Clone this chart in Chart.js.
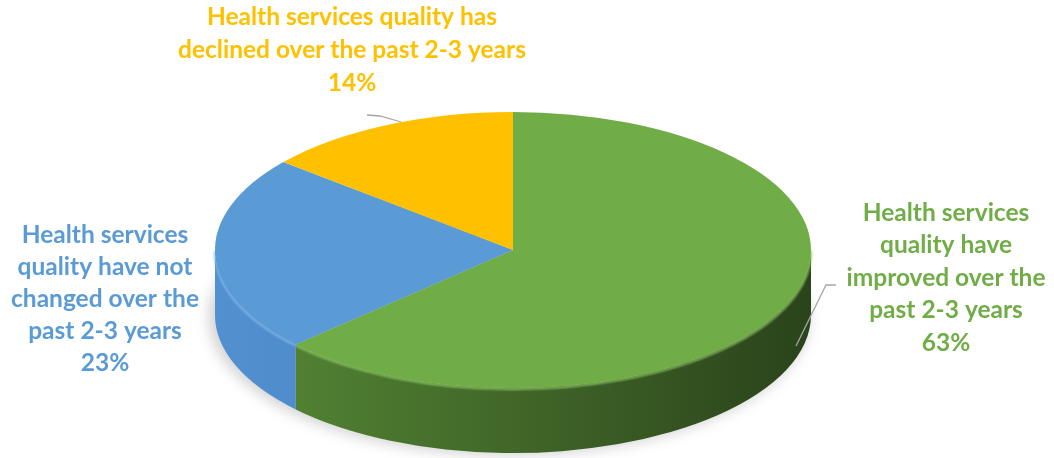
<!DOCTYPE html>
<html>
<head>
<meta charset="utf-8">
<script src="https://cdn.jsdelivr.net/npm/chart.js@4"></script>
<style>
  body { margin: 0; background: #fff; }
  #wrap { width: 1054px; height: 458px; position: relative; }
</style>
</head>
<body>
<div id="wrap"><canvas id="chart-pie"></canvas></div>
<script>
// data
const categories = [
    'Health services quality have improved over the past 2-3 years',
    'Health services quality have not changed over the past 2-3 years',
    'Health services quality has declined over the past 2-3 years'
];
const shares = [63, 23, 14];
const labelLines = [
    ['Health services', 'quality have', 'improved over the', 'past 2-3 years'],
    ['Health services', 'quality have not', 'changed over the', 'past 2-3 years'],
    ['Health services quality has', 'declined over the past 2-3 years']
];
const colors = ['#70ad47', '#5b9bd5', '#ffc000'];
const wallColors = [['#578a36', '#2a431b'], ['#5290d0', '#3f72aa'], ['#e0a800', '#b08400']];
const rimColors = ['#8fc866', '#7fb8ee', '#ffd24d'];

// where the tilted pie sits on the page
const pieCx = 513, pieCy = 250, pieRx = 298, pieRy = 138, pieDepth = 65;

// where the labels go (centre x, first line y, line step)
const labelPos = [[946, 213, 32.5], [105, 235, 32], [352, 17, 33]];

let chart_pie = document.getElementById('chart-pie');

const pie3d = {
    id: 'pie3d',
    beforeDatasetsDraw(chart) {
        const ctx = chart.ctx;
        const arcs = chart.getDatasetMeta(0).data;
        const first = arcs[0];

        // soft shadow under the pie
        ctx.save();
        ctx.fillStyle = 'rgba(0,0,0,0.18)';
        ctx.filter = 'blur(7px)';
        ctx.beginPath();
        ctx.ellipse(pieCx - 4, pieCy + pieDepth + 2, pieRx + 2, pieRy, 0, 0, Math.PI * 2);
        ctx.fill();
        ctx.restore();

        // side walls, only the front half can be seen
        arcs.forEach((arc, i) => {
            const a = arc.startAngle, b = arc.endAngle;
            [-2 * Math.PI, 0, 2 * Math.PI].forEach(k => {
                const lo = Math.max(a, k), hi = Math.min(b, k + Math.PI);
                if (hi <= lo) return;
                const grad = ctx.createLinearGradient(pieCx - pieRx, 0, pieCx + pieRx, 0);
                grad.addColorStop(0, wallColors[i][0]);
                grad.addColorStop(1, wallColors[i][1]);
                ctx.save();
                ctx.fillStyle = grad;
                ctx.beginPath();
                ctx.ellipse(pieCx, pieCy, pieRx, pieRy, 0, lo, hi);
                ctx.ellipse(pieCx, pieCy + pieDepth, pieRx, pieRy, 0, hi, lo, true);
                ctx.closePath();
                ctx.fill();
                // light rim on the top edge
                ctx.strokeStyle = rimColors[i];
                ctx.lineWidth = 2;
                ctx.filter = 'blur(1px)';
                ctx.beginPath();
                ctx.ellipse(pieCx, pieCy + 1, pieRx, pieRy, 0, lo, hi);
                ctx.stroke();
                ctx.restore();
            });
        });

        // squash the flat pie into the top face
        ctx.save();
        ctx.translate(pieCx, pieCy);
        ctx.scale(pieRx / first.outerRadius, pieRy / first.outerRadius);
        ctx.translate(-first.x, -first.y);
    },
    afterDatasetsDraw(chart) {
        const ctx = chart.ctx;
        ctx.restore();

        // leader lines
        ctx.save();
        ctx.strokeStyle = '#a6a6a6';
        ctx.lineWidth = 1.3;
        ctx.beginPath();
        ctx.moveTo(367, 115); ctx.lineTo(380, 116); ctx.lineTo(401, 122);
        ctx.moveTo(836, 285); ctx.lineTo(826, 285); ctx.lineTo(796, 346);
        ctx.stroke();

        // data labels
        ctx.font = 'bold 24.5px Lato';
        ctx.textAlign = 'center';
        ctx.textBaseline = 'middle';
        const total = shares.reduce((s, v) => s + v, 0);
        labelLines.forEach((lines, i) => {
            const [x, y, step] = labelPos[i];
            ctx.fillStyle = colors[i];
            const all = lines.concat([Math.round(shares[i] / total * 100) + '%']);
            all.forEach((t, j) => ctx.fillText(t, x, y + j * step));
        });
        ctx.restore();
    }
};

new Chart(chart_pie, {
    type: 'pie',
    data: {
        labels: categories,
        datasets: [{
            data: shares,
            backgroundColor: colors,
            borderWidth: 0,
            clip: false
        }]
    },
    options: {
        responsive: true,
        maintainAspectRatio: false,
        animation: false,
        plugins: {
            legend: { display: false },
            tooltip: { enabled: false }
        }
    },
    plugins: [pie3d]
});
</script>
</body>
</html>
